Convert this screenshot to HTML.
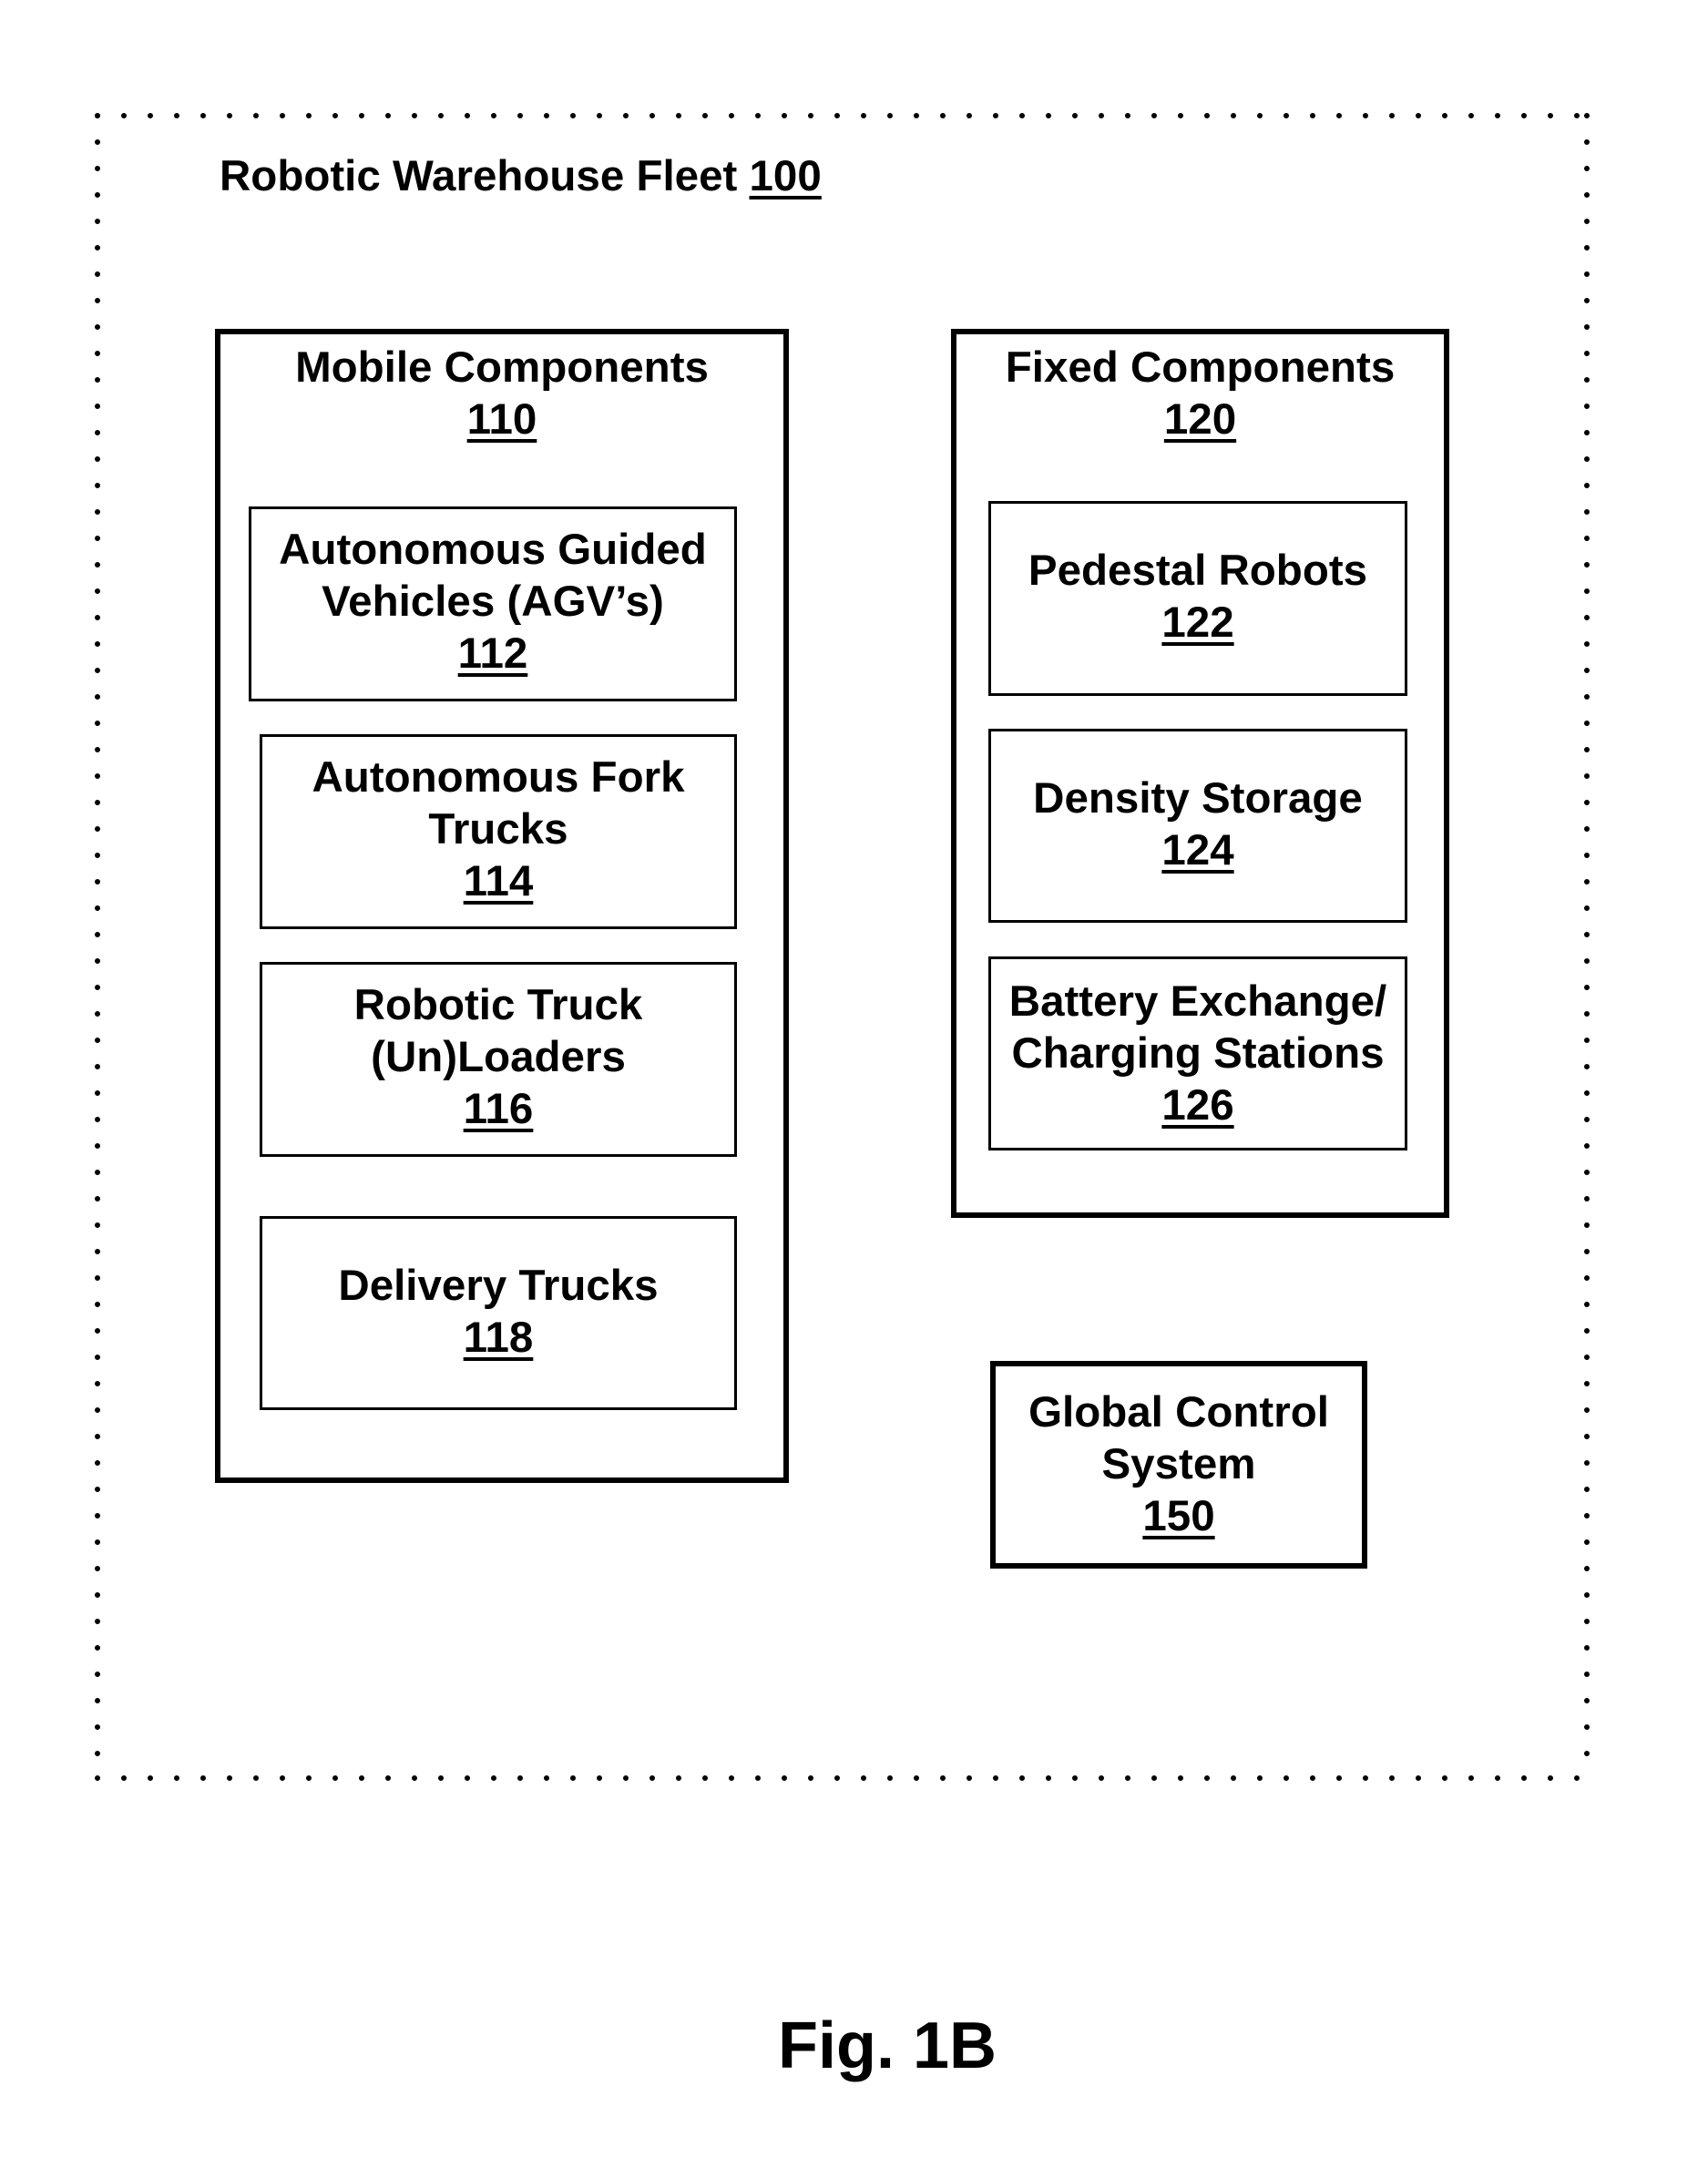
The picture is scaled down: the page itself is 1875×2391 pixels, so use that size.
<!DOCTYPE html>
<html><head><meta charset="utf-8"><style>
html,body{margin:0;padding:0;background:#fff;}
body{width:1875px;height:2391px;position:relative;overflow:hidden;font-family:"Liberation Sans",Arial,sans-serif;font-weight:bold;color:#000;}
.b{position:absolute;box-sizing:border-box;border:3px solid #000;}
.t{position:absolute;text-align:center;font-size:47.5px;line-height:57px;white-space:nowrap;}
u{text-decoration:underline;text-decoration-thickness:4px;text-underline-offset:6px;}
</style></head><body>
<svg width="1875" height="2391" style="position:absolute;left:0;top:0">
<g stroke="#000" stroke-width="6" stroke-linecap="round" stroke-dasharray="0 29" fill="none">
<line x1="107" y1="127" x2="1742" y2="127"/>
<line x1="107" y1="1952" x2="1742" y2="1952"/>
<line x1="107" y1="127" x2="107" y2="1952"/>
<line x1="1742" y1="127" x2="1742" y2="1952"/>
</g></svg>
<div class="t" style="left:241px;top:165px;text-align:left">Robotic Warehouse Fleet <u>100</u></div>

<div class="b" style="left:236px;top:361px;width:630px;height:1267px;border-width:6px"></div>
<div class="t" style="left:236px;width:630px;top:375px">Mobile Components<br><u>110</u></div>

<div class="b" style="left:273px;top:556px;width:536px;height:214px"></div>
<div class="t" style="left:273px;width:536px;top:575px">Autonomous Guided<br>Vehicles (AGV’s)<br><u>112</u></div>

<div class="b" style="left:285px;top:806px;width:524px;height:214px"></div>
<div class="t" style="left:285px;width:524px;top:825px">Autonomous Fork<br>Trucks<br><u>114</u></div>

<div class="b" style="left:285px;top:1056px;width:524px;height:214px"></div>
<div class="t" style="left:285px;width:524px;top:1075px">Robotic Truck<br>(Un)Loaders<br><u>116</u></div>

<div class="b" style="left:285px;top:1335px;width:524px;height:213px"></div>
<div class="t" style="left:285px;width:524px;top:1383px">Delivery Trucks<br><u>118</u></div>

<div class="b" style="left:1044px;top:361px;width:547px;height:976px;border-width:6px"></div>
<div class="t" style="left:1044px;width:547px;top:375px">Fixed Components<br><u>120</u></div>

<div class="b" style="left:1085px;top:550px;width:460px;height:214px"></div>
<div class="t" style="left:1085px;width:460px;top:598px">Pedestal Robots<br><u>122</u></div>

<div class="b" style="left:1085px;top:800px;width:460px;height:213px"></div>
<div class="t" style="left:1085px;width:460px;top:848px">Density Storage<br><u>124</u></div>

<div class="b" style="left:1085px;top:1050px;width:460px;height:213px"></div>
<div class="t" style="left:1085px;width:460px;top:1071px">Battery Exchange/<br>Charging Stations<br><u>126</u></div>

<div class="b" style="left:1087px;top:1494px;width:414px;height:228px;border-width:6px"></div>
<div class="t" style="left:1087px;width:414px;top:1522px">Global Control<br>System<br><u>150</u></div>

<div class="t" style="left:774px;width:400px;top:2204px;font-size:72px;line-height:84px">Fig. 1B</div>
</body></html>
